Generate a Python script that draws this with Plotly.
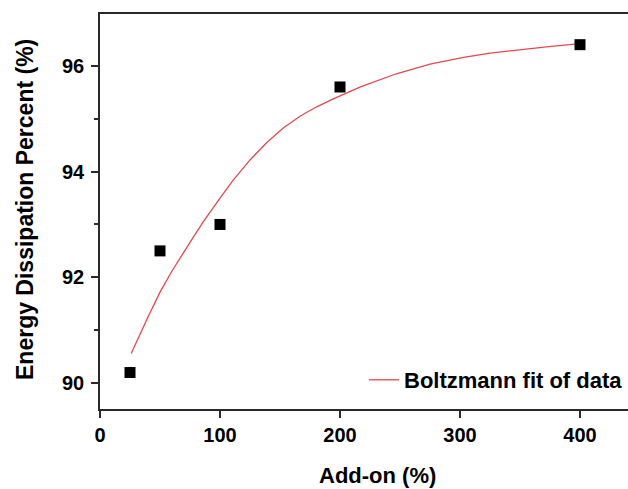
import plotly.graph_objects as go

# Measured data (Add-on %, Energy Dissipation %)
add_on = [25, 50, 100, 200, 400]
energy = [90.2, 92.5, 93.0, 95.6, 96.4]

# Boltzmann fit curve
fit_x = [26, 33, 40, 50, 60, 75, 86, 100, 111, 125, 139, 153, 167, 181, 194, 217, 247,
         275, 303, 325, 350, 372, 400]
fit_y = [90.56, 90.92, 91.25, 91.72, 92.12, 92.66, 93.05, 93.50, 93.84, 94.22, 94.55,
         94.83, 95.05, 95.23, 95.37, 95.60, 95.85, 96.03, 96.16, 96.24, 96.31, 96.36, 96.42]

x_ticks = [0, 100, 200, 300, 400]
y_ticks = [90, 92, 94, 96]

FONT = "Liberation Sans"
AXIS_COLOR = "#2a2a2a"

fig = go.Figure()
fig.add_trace(go.Scatter(
    x=fit_x, y=fit_y, mode="lines", name="Boltzmann fit of data",
    line=dict(color="#e5484d", width=1.3, shape="linear"),
    showlegend=True,
))
fig.add_trace(go.Scatter(
    x=add_on, y=energy, mode="markers", name="data",
    marker=dict(symbol="square", size=11, color="black"),
    showlegend=False,
))

fig.update_layout(
    width=628, height=489,
    margin=dict(l=100, r=0, t=14, b=80),
    paper_bgcolor="white", plot_bgcolor="white",
    font=dict(family=FONT, color="black"),
    legend=dict(
        x=1, xanchor="right", y=(409 - 380) / 395, yanchor="middle",
        bgcolor="rgba(0,0,0,0)", borderwidth=0,
        font=dict(family=FONT, size=22, weight="bold", color="black"),
    ),
    xaxis=dict(
        range=[0, 440], tickvals=x_ticks, showgrid=False, zeroline=False,
        showline=True, linecolor=AXIS_COLOR, linewidth=1.5, mirror=True,
        ticks="outside", ticklen=7, tickwidth=1.5, tickcolor=AXIS_COLOR,
        tickfont=dict(family=FONT, size=20, weight="bold", color="black"),
        ticklabelstandoff=0,
    ),
    yaxis=dict(
        range=[89.51, 96.98], tickvals=y_ticks, showgrid=False, zeroline=False,
        showline=True, linecolor=AXIS_COLOR, linewidth=1.5, mirror=False,
        ticks="outside", ticklen=7, tickwidth=1.5, tickcolor=AXIS_COLOR,
        tickfont=dict(family=FONT, size=20, weight="bold", color="black"),
        ticklabelstandoff=3,
        minor=dict(tickvals=[91, 93, 95], ticks="outside", ticklen=4,
                   tickwidth=1.5, tickcolor=AXIS_COLOR),
    ),
    annotations=[
        dict(text="Add-on (%)", xref="paper", yref="paper",
             x=(377 - 100) / 528, y=-(475 - 409) / 395,
             xanchor="center", yanchor="middle", showarrow=False,
             font=dict(family=FONT, size=22, weight="bold", color="black")),
        dict(text="Energy Dissipation Percent (%)", xref="paper", yref="paper",
             x=-(100 - 25) / 528, y=(409 - 210) / 395, textangle=-90,
             xanchor="center", yanchor="middle", showarrow=False,
             font=dict(family=FONT, size=23, weight="bold", color="black")),
    ],
)

fig.write_html("out.html")
